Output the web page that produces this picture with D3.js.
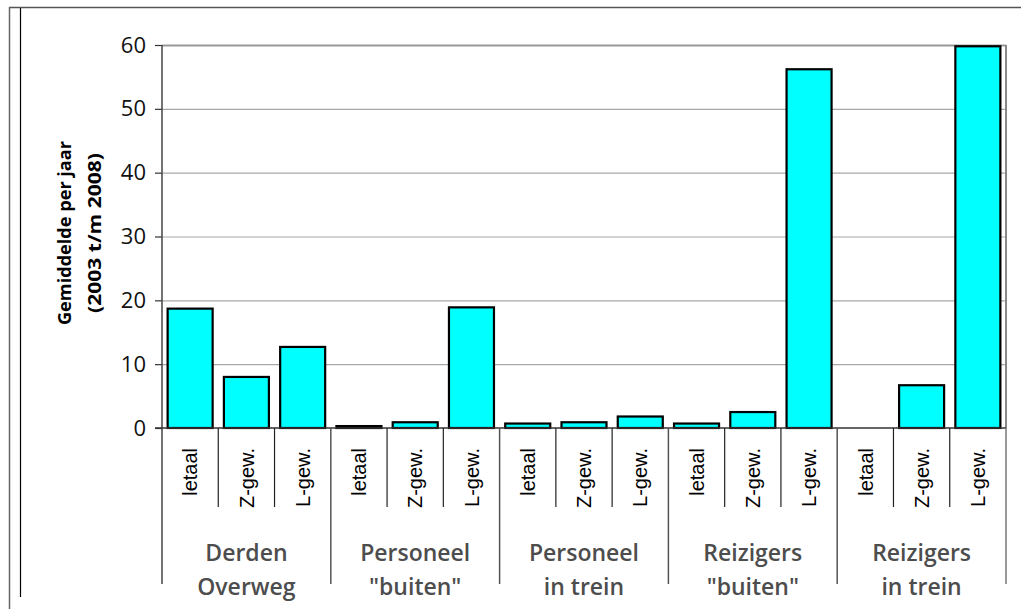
<!DOCTYPE html>
<html>
<head>
<meta charset="utf-8">
<script src="https://cdn.jsdelivr.net/npm/d3@7"></script>
<style>
  body { margin: 0; background: #fff; }
  svg { display: block; }
</style>
</head>
<body>
<svg id="chart"></svg>
<script>
const groups = [
  ['Derden', 'Overweg'],
  ['Personeel', '"buiten"'],
  ['Personeel', 'in trein'],
  ['Reizigers', '"buiten"'],
  ['Reizigers', 'in trein']
]
const kinds = ['letaal', 'Z-gew.', 'L-gew.']
const letaal = [18.7, 0.3, 0.7, 0.7, 0]
const zGew = [8.0, 0.9, 0.9, 2.5, 6.7]
const lGew = [12.7, 18.9, 1.8, 56.2, 59.8]
const yTicks = [0, 10, 20, 30, 40, 50, 60]
const yTitle = ['Gemiddelde per jaar', '(2003 t/m 2008)']

const dimension = { width: 1021, height: 609 }
const margin = { top: 45, right: 15, bottom: 181, left: 162 }

const data = []
groups.forEach((g, gi) => {
  const vals = [letaal[gi], zGew[gi], lGew[gi]]
  kinds.forEach((k, ki) => {
    data.push({ key: gi + '-' + ki, group: gi, kind: k, value: vals[ki] })
  })
})

const width = dimension.width - margin.left - margin.right
const height = dimension.height - margin.top - margin.bottom

const svgElement = d3.select('#chart')
  .attr('width', dimension.width)
  .attr('height', dimension.height)

// page frame
svgElement.append('line').attr('x1', 9).attr('x2', dimension.width).attr('y1', 7.5).attr('y2', 7.5)
  .attr('stroke', '#555').attr('stroke-width', 1.5)
svgElement.append('line').attr('x1', 9.5).attr('x2', 9.5).attr('y1', 7).attr('y2', dimension.height)
  .attr('stroke', '#666').attr('stroke-width', 1.5)
svgElement.append('line').attr('x1', 20.5).attr('x2', 20.5).attr('y1', 8).attr('y2', 597)
  .attr('stroke', '#000').attr('stroke-width', 1.2)

const xScale = d3.scaleBand()
  .domain(data.map((d) => d.key))
  .range([0, width])
  .paddingInner(0.2)
  .paddingOuter(0.1)

const step = xScale.step()

const yScale = d3.scaleLinear().domain([0, 60]).range([height, 0])

const svg = svgElement.append('g')
  .attr('transform', `translate(${margin.left}, ${margin.top})`)

// grid
svg.append('g')
  .selectAll('line')
  .data(yTicks.filter((t) => t > 0))
  .enter()
  .append('line')
  .attr('x1', 0)
  .attr('x2', width)
  .attr('y1', (d) => yScale(d) + 0.5)
  .attr('y2', (d) => yScale(d) + 0.5)
  .attr('stroke', (d) => (d === 60 ? '#999' : '#a8a8a8'))
  .attr('stroke-width', (d) => (d === 60 ? 2 : 1.2))

// right border
svg.append('line')
  .attr('x1', width).attr('x2', width)
  .attr('y1', yScale(60)).attr('y2', height)
  .attr('stroke', '#888').attr('stroke-width', 2)

// bars
svg.selectAll('rect.bar')
  .data(data.filter((d) => d.value > 0))
  .enter()
  .append('rect')
  .attr('class', 'bar')
  .attr('x', (d) => xScale(d.key))
  .attr('y', (d) => yScale(d.value))
  .attr('width', xScale.bandwidth())
  .attr('height', (d) => height - yScale(d.value))
  .attr('fill', '#00ffff')
  .attr('stroke', '#000')
  .attr('stroke-width', 2.2)

// y axis
const yAxis = svg.append('g')
  .call(d3.axisLeft(yScale).tickValues(yTicks).tickSize(7).tickPadding(9))
yAxis.select('.domain').remove()
yAxis.selectAll('.tick line').attr('stroke', '#333').attr('stroke-width', 1.2)
yAxis.attr('font-size', 22).attr('font-family', '"Open Sans", sans-serif')
yAxis.selectAll('.tick text')
  .attr('font-size', 22)
  .attr('fill', '#111')

svg.append('line')
  .attr('x1', 0).attr('x2', 0)
  .attr('y1', 0).attr('y2', height + 156)
  .attr('stroke', '#444').attr('stroke-width', 1.5)

// x baseline
svg.append('line')
  .attr('x1', -7).attr('x2', width)
  .attr('y1', height).attr('y2', height)
  .attr('stroke', '#333').attr('stroke-width', 1.5)

// separators between categories
const minor = data.filter((d, i) => i % 3 !== 0)
svg.append('g')
  .selectAll('line')
  .data(minor)
  .enter()
  .append('line')
  .attr('x1', (d) => xScale(d.key) - step * 0.1)
  .attr('x2', (d) => xScale(d.key) - step * 0.1)
  .attr('y1', height)
  .attr('y2', height + 79)
  .attr('stroke', '#222')
  .attr('stroke-width', 1.2)

const major = data.filter((d, i) => i % 3 === 0 && i > 0)
svg.append('g')
  .selectAll('line')
  .data(major)
  .enter()
  .append('line')
  .attr('x1', (d) => xScale(d.key) - step * 0.1)
  .attr('x2', (d) => xScale(d.key) - step * 0.1)
  .attr('y1', height)
  .attr('y2', height + 156)
  .attr('stroke', '#555')
  .attr('stroke-width', 1.5)
svg.append('line')
  .attr('x1', width).attr('x2', width)
  .attr('y1', height).attr('y2', height + 156)
  .attr('stroke', '#777').attr('stroke-width', 1.5)

// category labels
svg.append('g')
  .selectAll('text')
  .data(data)
  .enter()
  .append('text')
  .attr('transform', (d) => `translate(${xScale(d.key) + xScale.bandwidth() / 2}, ${height + 20}) rotate(-90)`)
  .attr('text-anchor', 'end')
  .attr('dy', '0.36em')
  .attr('font-family', '"Liberation Sans", Arial, sans-serif')
  .attr('font-size', 20)
  .attr('fill', '#000')
  .text((d) => d.kind)

// group labels
const groupLabels = svg.append('g')
  .selectAll('text')
  .data(groups)
  .enter()
  .append('text')
  .attr('text-anchor', 'middle')
  .attr('font-family', '"Open Sans", sans-serif')
  .attr('font-size', 23)
  .attr('font-weight', 600)
  .attr('fill', '#4d4d4d')
  .attr('x', (d, i) => xScale(i + '-1') + xScale.bandwidth() / 2)

groupLabels.append('tspan')
  .attr('x', (d, i) => xScale(i + '-1') + xScale.bandwidth() / 2)
  .attr('y', height + 133)
  .text((d) => d[0])
groupLabels.append('tspan')
  .attr('x', (d, i) => xScale(i + '-1') + xScale.bandwidth() / 2)
  .attr('y', height + 167)
  .text((d) => d[1])

// y title
const titleLengths = [184, 160]
svgElement.append('g')
  .attr('transform', 'translate(0, 233)')
  .selectAll('text')
  .data(yTitle)
  .enter()
  .append('text')
  .attr('transform', (d, i) => `translate(${[71, 101][i]}, 0) rotate(-90)`)
  .attr('text-anchor', 'middle')
  .attr('font-family', '"Open Sans", sans-serif')
  .attr('font-weight', 700)
  .attr('font-size', 17)
  .attr('textLength', (d, i) => titleLengths[i])
  .attr('lengthAdjust', 'spacingAndGlyphs')
  .attr('fill', '#000')
  .text((d) => d)
</script>
</body>
</html>
